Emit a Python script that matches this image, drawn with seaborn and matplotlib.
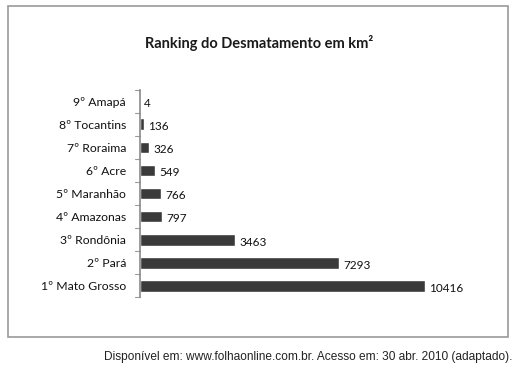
#!/usr/bin/env python3
"""
Horizontal bar chart: Ranking do Desmatamento em km².
"""

import pandas as pd
import matplotlib.pyplot as plt
import seaborn as sns
from matplotlib.patches import Rectangle

sns.set_theme(style="white")
plt.rcParams['font.family'] = ['Lato', 'DejaVu Sans']

# Data (top to bottom as drawn)
states = ['9º Amapá', '8º Tocantins', '7º Roraima', '6º Acre', '5º Maranhão',
          '4º Amazonas', '3º Rondônia', '2º Pará', '1º Mato Grosso']
area_km2 = [4, 136, 326, 549, 766, 797, 3463, 7293, 10416]

df = pd.DataFrame({'estado': states, 'area': area_km2})

fig = plt.figure(figsize=(5.18, 3.78), dpi=100)
ax = fig.add_axes([0.27, 0.213, 0.66, 0.55])

sns.barplot(data=df, y='estado', x='area', orient='h', color='#3a3a3a',
            saturation=1, width=0.5, ax=ax)

# value labels at the end of each bar
for i, v in enumerate(area_km2):
    ax.text(v + 160, i + 0.1, str(v), va='center', ha='left',
            fontsize=8.5, color='#111111')

ax.set_xlim(0, 12500)
ax.set_ylim(8.5, -0.5)
ax.set_xlabel('')
ax.set_ylabel('')
ax.set_xticks([])
ax.tick_params(axis='y', length=0, labelsize=8.8, labelcolor='#111111', pad=10)
for s in ['top', 'right', 'bottom']:
    ax.spines[s].set_visible(False)
ax.spines['left'].set_color('#8a8a8a')
ax.spines['left'].set_linewidth(1.2)

# small ticks between categories on the axis wall
for k in range(10):
    ax.plot([-180, 0], [k - 0.5, k - 0.5], color='#9a9a9a', lw=0.8,
            clip_on=False)

# chart title
fig.text(0.5, 0.885, 'Ranking do Desmatamento em km²', ha='center',
         va='center', fontsize=10.5, fontweight='bold', color='#1a1a1a')

# chart border
fig.patches.append(Rectangle((8 / 518, 1 - 337 / 378), 500 / 518, 331 / 378,
                             transform=fig.transFigure, fill=False,
                             edgecolor='#9a9a9a', lw=1.2))

# source caption
fig.text(512 / 518, 1 - 357 / 378,
         'Disponível em: www.folhaonline.com.br. Acesso em: 30 abr. 2010 (adaptado).',
         ha='right', va='center', fontsize=8.6, family=['Liberation Sans'],
         color='#222222')

plt.savefig('out.png', dpi=100)
